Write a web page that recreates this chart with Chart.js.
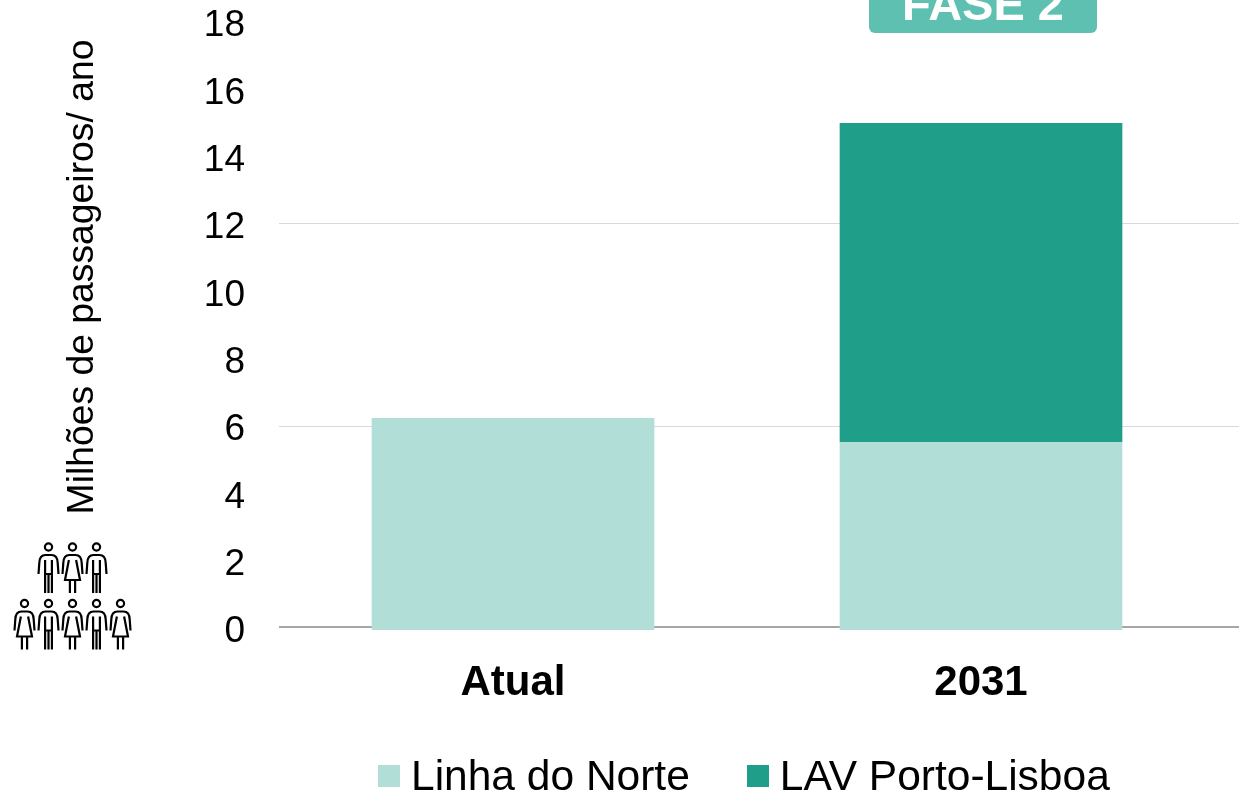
<!DOCTYPE html>
<html>
<head>
<meta charset="utf-8">
<script src="https://cdn.jsdelivr.net/npm/chart.js@4"></script>
<style>
  html, body { margin: 0; background: #fff; overflow: hidden; }
  #wrap { position: relative; width: 1239px; height: 793px; }
  #legend { position: absolute; left: 378px; top: 752px; display: flex; font: 42.5px "Liberation Sans", Arial, sans-serif; color: #000; white-space: nowrap; }
  #legend .item { display: flex; align-items: center; margin-right: 57px; line-height: 48px; }
  #legend .box { width: 22px; height: 22px; margin-right: 11px; }
</style>
</head>
<body>
<div id="wrap">
  <canvas id="chart" width="1239" height="793"></canvas>
  <div id="legend"></div>
</div>
<script>
const categories = ["Atual", "2031"];
const linhaDoNorte = [6.3, 5.58];
const lavPortoLisboa = [0, 9.48];
const gridValues = [6.05, 12.09];
const baseValue = 0.1;
const yTitle = "Milhões de passageiros/ ano";
const badgeText = "FASE 2";
const topRow = ["m", "w", "m"];
const bottomRow = ["w", "m", "w", "m", "w"];

const FONT = '"Liberation Sans", Arial, sans-serif';

// the gridlines sit a little above the tick positions and run to the page edge
const gridPlugin = {
  id: "grid",
  beforeDatasetsDraw(chart) {
    const { ctx, scales: { y }, chartArea, width } = chart;
    ctx.save();
    ctx.strokeStyle = "#D9D9D9";
    ctx.lineWidth = 1;
    gridValues.forEach(v => {
      const py = Math.round(y.getPixelForValue(v)) + 0.5;
      ctx.beginPath();
      ctx.moveTo(chartArea.left, py);
      ctx.lineTo(width, py);
      ctx.stroke();
    });
    ctx.strokeStyle = "#A6A6A6";
    ctx.lineWidth = 2;
    const py0 = Math.round(y.getPixelForValue(baseValue));
    ctx.beginPath();
    ctx.moveTo(chartArea.left, py0);
    ctx.lineTo(width, py0);
    ctx.stroke();
    ctx.restore();
  }
};

function drawPerson(ctx, x, y, kind) {
  ctx.beginPath();
  ctx.arc(x, y, 3.6, 0, Math.PI * 2);
  ctx.moveTo(x - 10, y + 27);
  ctx.lineTo(x - 9.2, y + 16);
  ctx.quadraticCurveTo(x - 9, y + 8, x - 3, y + 8);
  ctx.lineTo(x + 3, y + 8);
  ctx.quadraticCurveTo(x + 9, y + 8, x + 9.2, y + 16);
  ctx.lineTo(x + 10, y + 27);
  if (kind === "m") {
    ctx.moveTo(x - 3.4, y + 13);
    ctx.lineTo(x - 3.4, y + 46);
    ctx.moveTo(x + 3.4, y + 13);
    ctx.lineTo(x + 3.4, y + 46);
    ctx.moveTo(x - 3.4, y + 27);
    ctx.lineTo(x + 3.4, y + 27);
    ctx.moveTo(x, y + 27);
    ctx.lineTo(x, y + 46);
  } else {
    ctx.moveTo(x - 3.6, y + 13);
    ctx.lineTo(x - 7.5, y + 33);
    ctx.lineTo(x + 7.5, y + 33);
    ctx.lineTo(x + 3.6, y + 13);
    ctx.moveTo(x - 2.6, y + 33);
    ctx.lineTo(x - 2.6, y + 46);
    ctx.moveTo(x + 2.6, y + 33);
    ctx.lineTo(x + 2.6, y + 46);
  }
  ctx.stroke();
}

const extrasPlugin = {
  id: "extras",
  afterDraw(chart) {
    const { ctx, scales: { x } } = chart;
    ctx.save();

    // axis title
    ctx.save();
    ctx.translate(93, 277);
    ctx.rotate(-Math.PI / 2);
    ctx.fillStyle = "#000";
    ctx.font = "37.3px " + FONT;
    ctx.textAlign = "center";
    ctx.textBaseline = "alphabetic";
    ctx.fillText(yTitle, 0, 0);
    ctx.restore();

    // badge over the 2031 bar, cut by the top of the picture
    const cx = x.getPixelForValue(1) + 2;
    ctx.fillStyle = "#5DC0B0";
    ctx.beginPath();
    ctx.roundRect(cx - 114, -12, 228, 45, 6);
    ctx.fill();
    ctx.fillStyle = "#fff";
    ctx.font = "bold 47px " + FONT;
    ctx.textAlign = "center";
    ctx.textBaseline = "alphabetic";
    ctx.fillText(badgeText, cx, 20);

    // people icons
    ctx.strokeStyle = "#000";
    ctx.lineWidth = 2.2;
    const xs = [24.5, 48.5, 72.5, 96.5, 120.5];
    topRow.forEach((k, i) => drawPerson(ctx, xs[i + 1], 547, k));
    bottomRow.forEach((k, i) => drawPerson(ctx, xs[i], 603.5, k));
    ctx.restore();
  }
};

const chart = new Chart(document.getElementById("chart"), {
  type: "bar",
  data: {
    labels: categories,
    datasets: [
      { label: "Linha do Norte", data: linhaDoNorte, backgroundColor: "#B1DFD7" },
      { label: "LAV Porto-Lisboa", data: lavPortoLisboa, backgroundColor: "#1F9E89" }
    ]
  },
  options: {
    responsive: false,
    animation: false,
    layout: { padding: { top: 24, right: 24, left: 0, bottom: 0 } },
    barPercentage: 0.604,
    categoryPercentage: 1,
    plugins: {
      legend: { display: false },
      tooltip: { enabled: false }
    },
    scales: {
      x: {
        stacked: true,
        grid: { display: false, drawTicks: false },
        border: { display: false },
        ticks: { color: "#000", padding: 28, font: { family: FONT, size: 42, weight: "bold" } },
        afterFit(s) { s.height = 163; }
      },
      y: {
        stacked: true,
        min: 0,
        max: 18,
        grid: { display: false, drawTicks: false },
        border: { display: false },
        ticks: { stepSize: 2, color: "#000", padding: 34, labelOffset: 2, font: { family: FONT, size: 37 } },
        afterFit(s) { s.width = 279; s.paddingTop = 0; s.paddingBottom = 0; }
      }
    }
  },
  plugins: [gridPlugin, extrasPlugin]
});

const legendEl = document.getElementById("legend");
chart.data.datasets.forEach(ds => {
  const item = document.createElement("div");
  item.className = "item";
  const box = document.createElement("span");
  box.className = "box";
  box.style.background = ds.backgroundColor;
  item.appendChild(box);
  item.appendChild(document.createTextNode(ds.label));
  legendEl.appendChild(item);
});
</script>
</body>
</html>
